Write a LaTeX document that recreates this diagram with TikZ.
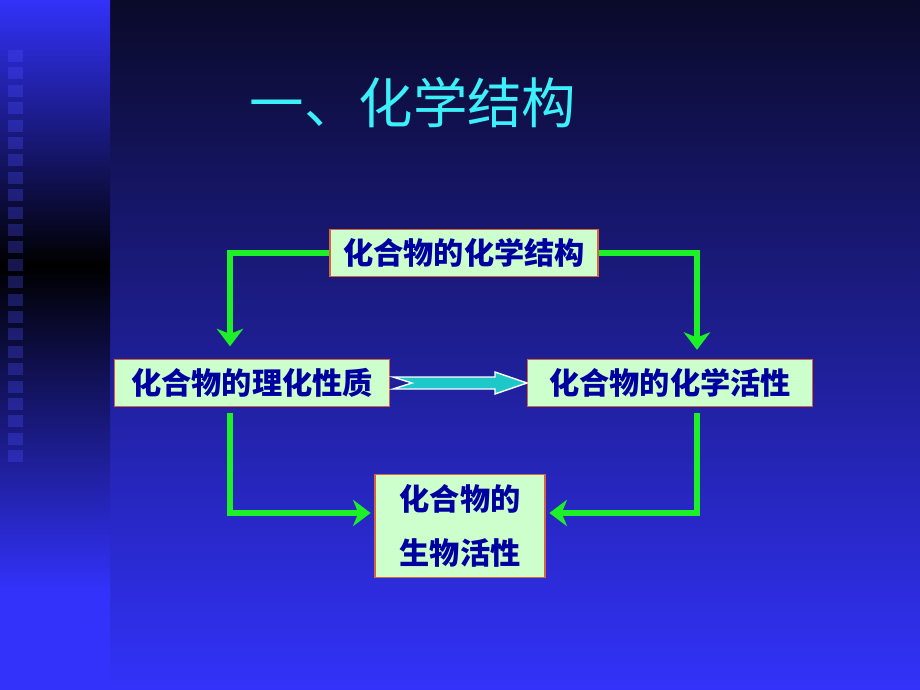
\documentclass[tikz,border=0pt]{standalone}
\usepackage{fontspec}
\newfontfamily\cjk{Noto Sans CJK SC}
\usepackage{tikz}
\usetikzlibrary{calc}
\usetikzlibrary{arrows.meta}
\definecolor{bgtop}{RGB}{10,10,42}
\definecolor{bgmid}{RGB}{36,36,170}
\definecolor{bgbot}{RGB}{50,50,250}
\definecolor{boxfill}{RGB}{204,255,204}
\definecolor{boxline}{RGB}{214,100,60}
\definecolor{boxtext}{RGB}{0,0,160}
\definecolor{flowgreen}{RGB}{30,240,40}
\definecolor{blockcyan}{RGB}{30,200,200}
\definecolor{titlecyan}{RGB}{60,240,250}
\tikzset{
	term/.style={draw=boxline,line width=1pt,fill=boxfill,text=boxtext,
		font=\cjk\bfseries\fontsize{17.2}{31}\selectfont,inner sep=0pt,align=center},
	flow/.style={draw=flowgreen,line width=3.1pt,
		-{Stealth[length=10pt,width=15pt,inset=3pt]}}
}
\begin{document}
\begin{tikzpicture}[x=0.02cm,y=-0.02cm]
				\useasboundingbox (0,0) rectangle (920,690);
				% background
				\shade[top color=bgtop,middle color=bgmid,bottom color=bgbot] (110,0) rectangle (920,690);
				\shade[top color=bgbot,bottom color=black] (0,0) rectangle (110,265);
				\shade[top color=black,bottom color=bgbot] (0,265) rectangle (110,590);
				\fill[bgbot] (0,590) rectangle (110,690);
				\foreach \i in {0,...,23}
					\fill[blue!70!white,opacity=0.3] (8,{50+17.4*\i}) rectangle (23,{62+17.4*\i});
				
				\node[text=titlecyan,font=\cjk\fontsize{31}{36}\selectfont] (T) at (413,103) {一、化学结构};
				
				\node[term,minimum width=268*0.02cm,minimum height=47*0.02cm] (S) at (464,253) {化合物的化学结构};
				\node[term,minimum width=275*0.02cm,minimum height=47*0.02cm] (P) at (252,383) {化合物的理化性质};
				\node[term,minimum width=285*0.02cm,minimum height=47*0.02cm] (A) at (670,383) {化合物的化学活性};
				\node[term,minimum width=170*0.02cm,minimum height=103*0.02cm] (B) at (460,526) {化合物的\\生物活性};
				
				\draw[flow,shorten >=7pt] (S.west) -| ($(P.north)+(-22,0)$);
				\draw[flow,shorten >=5pt] (S.east) -| ($(A.north)+(27,0)$);
				\draw[flow,shorten <=3pt,shorten >=2pt] ($(P.south)+(-22,0)$) |- ($(B.west)+(0,-13)$);
				\draw[flow,shorten <=3pt,shorten >=2pt] ($(A.south)+(27,0)$) |- ($(B.east)+(0,-13)$);
				
				% block arrow
				\draw[white,fill=blockcyan,line width=0.8pt,line join=miter]
					(393,377) -- (495,377) -- (495,372) -- (527,383) -- (495,394) -- (495,389) -- (393,389) -- (412,383) -- cycle;
			\end{tikzpicture}
\end{document}
